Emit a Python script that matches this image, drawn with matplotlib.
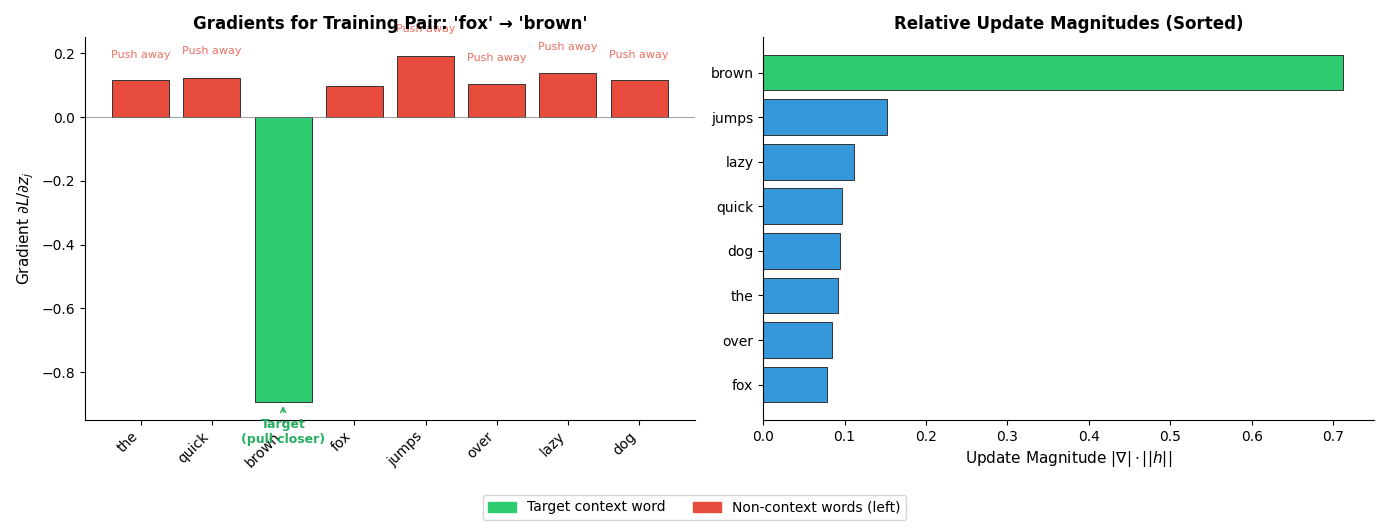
import matplotlib.pyplot as plt
import numpy as np
from matplotlib.patches import Patch

words = ['the', 'quick', 'brown', 'fox', 'jumps', 'over', 'lazy', 'dog']
grads = [0.115, 0.122, -0.893, 0.097, 0.190, 0.104, 0.138, 0.116]
push_label_y = [0.18, 0.19, None, None, 0.26, 0.17, 0.205, 0.18]

sorted_words = ['fox', 'over', 'the', 'dog', 'quick', 'lazy', 'jumps', 'brown']
magnitudes = [0.079, 0.084, 0.092, 0.094, 0.097, 0.112, 0.152, 0.712]

green = '#2ecc71'
red = '#e74c3c'
blue = '#3498db'

fig, (ax1, ax2) = plt.subplots(1, 2, figsize=(13.89, 5.27), dpi=100)

x = np.arange(len(words))
colors = [green if w == 'brown' else red for w in words]
ax1.bar(x, grads, color=colors, edgecolor='#333333', linewidth=0.7)
ax1.axhline(0, color='gray', linewidth=0.8, alpha=0.7)
for i, y in enumerate(push_label_y):
    if y is not None:
        ax1.text(x[i], y, 'Push away', ha='center', va='bottom', fontsize=8, color=red, alpha=0.8)
ax1.annotate('Target\n(pull closer)', xy=(2, grads[2] - 0.005), xytext=(2, grads[2] - 0.05),
             ha='center', va='top', fontsize=9, fontweight='bold', color='#27ae60',
             arrowprops=dict(arrowstyle='->', color='#27ae60'))
ax1.set_xticks(x)
ax1.set_xticklabels(words, rotation=45, ha='right')
ax1.set_ylabel(r'Gradient $\partial L/\partial z_j$', fontsize=11)
ax1.set_title("Gradients for Training Pair: 'fox' \u2192 'brown'", fontsize=12, fontweight='bold')
ax1.set_ylim(-0.95, 0.25)
ax1.spines['top'].set_visible(False)
ax1.spines['right'].set_visible(False)

bar_colors = [green if w == 'brown' else blue for w in sorted_words]
ax2.barh(sorted_words, magnitudes, color=bar_colors, edgecolor='#333333', linewidth=0.7)
ax2.set_xlabel(r'Update Magnitude $|\nabla| \cdot ||h||$', fontsize=11)
ax2.set_title('Relative Update Magnitudes (Sorted)', fontsize=12, fontweight='bold')
ax2.set_xlim(0, 0.75)
ax2.spines['top'].set_visible(False)
ax2.spines['right'].set_visible(False)

handles = [Patch(color=green, label='Target context word'),
           Patch(color=red, label='Non-context words (left)')]
fig.legend(handles=handles, loc='lower center', ncol=2, bbox_to_anchor=(0.5, 0.0))

plt.tight_layout(rect=[0, 0.08, 1, 1])
plt.savefig('out.png')
